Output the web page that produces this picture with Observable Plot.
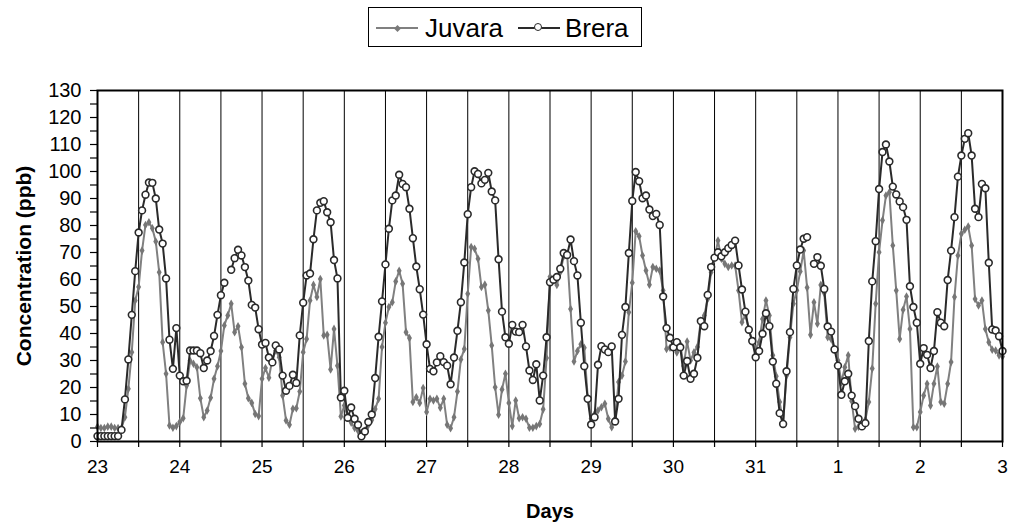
<!DOCTYPE html>
<html>
<head>
<meta charset="utf-8">
<script src="https://cdn.jsdelivr.net/npm/d3@7"></script>
<script src="https://cdn.jsdelivr.net/npm/@observablehq/plot@0.6"></script>
<style>
  html, body { margin: 0; padding: 0; background: #fff; }
  body { font-family: "Liberation Sans", Arial, sans-serif; width: 1010px; }
  #legend { position: relative; width: 1010px; height: 55px; }
  #legend .box { position: absolute; left: 368px; top: 7px; width: 274px; height: 40px; border: 1px solid #000; box-sizing: border-box; }
  #legend .ln { position: absolute; height: 2px; }
  #legend .lbl { position: absolute; font-size: 26px; line-height: 26px; color: #000; white-space: nowrap; }
  #legend .dia { position: absolute; width: 5px; height: 5px; background: #7a7a7a; transform: rotate(45deg); }
  #legend .circ { position: absolute; width: 6px; height: 6px; border: 1.6px solid #2a2a2a; border-radius: 50%; background: #fff; }
  #chart svg { display: block; }
</style>
</head>
<body>
<div id="legend">
  <div class="box"></div>
  <div class="ln" style="left:376px; top:27px; width:42px; background:#808080;"></div>
  <div class="dia" style="left:395px; top:25.5px;"></div>
  <div class="lbl" style="left:425px; top:15px;">Juvara</div>
  <div class="ln" style="left:518px; top:27px; width:42px; background:#2a2a2a;"></div>
  <div class="circ" style="left:534px; top:23px;"></div>
  <div class="lbl" style="left:565px; top:15px;">Brera</div>
</div>
<div id="chart"></div>
<script>
// Hourly ozone concentrations (ppb), 23rd 00:00 to 3rd 00:00 (265 hourly readings)
const juvara = [
  5.5, 5, 5, 5.5, 5.5, 5, 5, 5, 9, 19.5, 33.1, 52.2, 57.2, 70.7, 80.2, 81.2, 79, 74.1, 62.7, 36.8, 25.1, 5.9, 5.1, 5.7,
  7.2, 8.6, 20.7, 29.9, 28.8, 27.5, 16, 9, 11.5, 16.2, 23.2, 27.9, 33.5, 43, 46.7, 51, 40.5, 42.7, 34.9, 21.4, 16, 14.3, 10.2, 9.4,
  23.2, 27.2, 23.6, 30.4, 33.7, 31.2, 17, 7.8, 6.2, 12.1, 12.3, 18.5, 33.1, 38, 52.2, 58, 53.5, 60.2, 39.3, 39.5, 26.7, 41.7, 28.1, 9.3,
  13.3, 9, 7, 5, 4, 3, 4, 6, 8, 12, 15.8, 35, 44, 49.8, 51.6, 59.3, 63.2, 58.4, 40.5, 38.3, 14.6, 16.4, 14.3, 19.8,
  10.9, 15.8, 15.2, 15.8, 12.5, 15.8, 6.2, 4.9, 9, 18.5, 30.4, 34.3, 54.7, 72, 71.4, 67.7, 57.2, 58.1, 48.5, 35.6, 20.1, 9.9, 19.3, 25.1,
  14.3, 5.7, 15.2, 8.6, 9, 8.4, 5.1, 5.1, 5.7, 6.5, 11.9, 30.9, 61, 60, 58, 62.7, 68.6, 69.5, 49.1, 29.6, 33.5, 36, 34.7, 16.4,
  8.4, 10.2, 11.5, 12.7, 14, 8.4, 5.3, 8.4, 22, 24.4, 29.6, 47.9, 58.8, 77.9, 76, 68.9, 63.3, 58.1, 64.6, 64, 63.3, 55.9, 34.3, 34.7,
  35, 33, 36, 28, 37, 30, 33, 35, 44.8, 46.7, 52.8, 62.7, 67.7, 74.4, 67.7, 65.8, 64.6, 65.2, 65.2, 55.9, 44.2, 46.7, 41.7, 36.8,
  34.3, 36.8, 45.4, 52.2, 46.7, 31.9, 24.2, 14.6, 7, 24.4, 38.6, 51, 56, 63, 70.7, 57, 39.5, 51.6, 43.6, 58, 55, 38.6, 38, 34.3,
  30, 22, 27.5, 31.9, 15, 4.7, 5.5, 6, 8, 14.6, 27, 51, 70.1, 81.9, 91.1, 92.3, 72.6, 55.9, 38, 48.8, 53.7, 41.7, 5.3, 5.3,
  10.9, 17, 21.4, 13.3, 21.4, 27.8, 14.6, 14, 21.4, 29.4, 53.5, 68.9, 76.9, 78.4, 79.6, 72.6, 52.8, 50.4, 52.2, 41.7, 36.8, 34, 33.7, 31.9,
  31.5
];
const brera = [
  2, 2, 2, 2, 2, 2, 2, 4.3, 15.6, 30.4, 46.9, 63.1, 77.4, 85.6, 91.4, 95.9, 95.8, 90, 78.5, 73.3, 60.4, 37.7, 26.9, 42,
  24.4, 22.3, 22.5, 33.7, 33.7, 33.7, 32.7, 27.2, 30, 33.5, 39.1, 46.9, 54.2, 58.8, null, 63.6, 67.9, 71, 68.9, 64.6, 59.6, 50.6, 49.6, 41.6,
  35.9, 36.5, 31.1, 29.3, 35.6, 34.1, 24.4, 18.8, 20.6, 24.7, 21.7, 39.3, 51.4, 61.5, 62.2, 74.9, 85.6, 88.4, 89, 84.9, 81.2, 67.2, 60.4, 16.3,
  18.8, 8.8, 12.6, 8.4, 6.2, 1.9, 3.7, 7.2, 10, 23.5, 38.8, 51.9, 65.6, 78.8, 89.3, 91.1, 98.8, 95.4, 94.2, 86.2, 75.3, 64.8, 56.4, 47,
  36, 26.9, 26, 29.3, 31.6, 29.4, 28.1, 21.2, 31.1, 41, 51.6, 66.3, 84.2, 94.2, 100.1, 99.1, 95.6, 96.9, 99.5, 92.6, 89.3, 67.5, 48.1, 38.6,
  36.2, 43.2, 40.7, 40.5, 43.2, 35.2, 26.3, 22.8, 28.6, 15.2, 24.4, 38.6, 59, 59.9, 60.9, 64, 69.8, 69.1, 74.8, 66.8, 61.5, 44, 27.9, 15.8,
  6.3, 9, 28.4, 35.3, 34.1, 33.1, 35.2, 7.4, 15.8, 39.5, 49.8, 69.8, 89.1, 99.8, 96.4, 90.1, 91.1, 85.9, 83.5, 84.3, 80.2, 53.7, 42, 38.4,
  34.9, 36.8, 34.9, 24.4, 29.8, 23.2, 25.1, 31, 44.6, 42.7, 54.3, 64.6, 68.1, 70.1, 68.6, 70.1, 71.6, 72.8, 74.4, 65.2, 56.3, 48.1, 41.4, 37.2,
  31.2, 33.5, 39.9, 47.5, 42.7, 29.6, 21.4, 10.5, 6.5, 26, 40.5, 56.5, 65.2, 71.1, 75.1, 75.7, null, 65.8, 68.3, 65.1, 56.5, 42.6, 40.7, 34.1,
  28.1, 17.3, 22.3, 25.1, 17, 13.1, 8.4, 5.6, 6.8, 37.2, 59.3, 74.2, 93.5, 107.2, 110, 103.7, 94.4, 91.5, 88.9, 86.8, 82.1, 57.5, 49.8, 44,
  28.8, 34.6, 32.1, 27.2, 33.5, 47.9, 44, 42.7, 59.8, 70.7, 83.1, 98.1, 105.9, 112.1, 114.2, 105.9, 86.2, 83.1, 95.4, 93.8, 66.2, 41.5, 41.1, 39,
  33.5
];
const dayLabels = ["23", "24", "25", "26", "27", "28", "29", "30", "31", "1", "2", "3"];
const yLabels = [0, 10, 20, 30, 40, 50, 60, 70, 80, 90, 100, 110, 120, 130];
const yMinor = [5, 15, 25, 35, 45, 55, 65, 75, 85, 95, 105, 115, 125];

const juvaraData = juvara.map((v, i) => ({ hour: i, value: v }));
const breraData = brera.map((v, i) => ({ hour: i, value: v }));
const halfTicks = d3.range(0, 24 * (dayLabels.length - 1) + 1, 12);
const gridTicks = halfTicks.filter(h => h > 0 && h < 24 * (dayLabels.length - 1));

const chart = Plot.plot({
  width: 1010,
  height: 469,
  marginTop: 35,
  marginBottom: 83,
  marginLeft: 97,
  marginRight: 8,
  style: { fontFamily: "'Liberation Sans', Arial, sans-serif", background: "#fff", color: "#000" },
  x: { domain: [0, 264], label: null },
  y: { domain: [0, 130], label: null },
  marks: [
    Plot.ruleX(gridTicks, { stroke: "#000", strokeWidth: 1 }),
    Plot.line(juvaraData, { x: "hour", y: "value", stroke: "#808080", strokeWidth: 2 }),
    Plot.dot(juvaraData, { x: "hour", y: "value", symbol: "diamond", r: 2.6, fill: "#767676", stroke: "none" }),
    Plot.line(breraData, { x: "hour", y: "value", stroke: "#2a2a2a", strokeWidth: 2 }),
    Plot.dot(breraData, { x: "hour", y: "value", r: 3.4, fill: "#fff", stroke: "#2a2a2a", strokeWidth: 1.6 }),
    Plot.frame({ stroke: "#000", strokeWidth: 2 }),
    Plot.axisY(yLabels, { tickSize: 7, tickPadding: 9, fontSize: 20, label: null, strokeWidth: 1.2 }),
    Plot.axisY(yMinor, { tickSize: 7, tickFormat: () => "", label: null, strokeWidth: 1.2 }),
    Plot.axisX(halfTicks, {
      tickSize: 6, tickPadding: 12, fontSize: 19, label: null, strokeWidth: 1.2,
      tickFormat: d => (d % 24 === 0 ? dayLabels[d / 24] : "")
    }),
    Plot.text(["Concentration (ppb)"], { frameAnchor: "left", textAnchor: "middle", dx: -73, rotate: -90, fontWeight: "bold", fontSize: 21, fill: "#000" }),
    Plot.text(["Days"], { frameAnchor: "bottom", textAnchor: "middle", lineAnchor: "middle", dy: 70, fontWeight: "bold", fontSize: 20, fill: "#000" })
  ]
});
document.getElementById("chart").appendChild(chart);
</script>
</body>
</html>
